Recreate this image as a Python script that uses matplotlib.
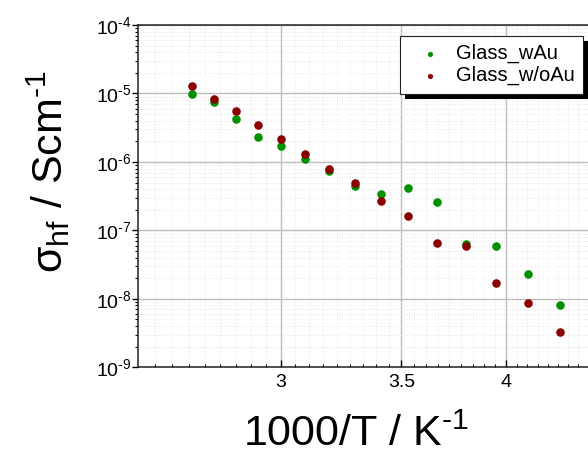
import numpy as np
import matplotlib.pyplot as plt
from matplotlib.patches import Rectangle
from matplotlib.transforms import IdentityTransform
from matplotlib.ticker import FixedLocator, FixedFormatter, LogLocator, FuncFormatter, NullFormatter

plt.rcParams['font.family'] = ['Liberation Sans', 'DejaVu Sans']
plt.rcParams['mathtext.fontset'] = 'custom'
plt.rcParams['mathtext.rm'] = 'Liberation Sans'
plt.rcParams['mathtext.it'] = 'Liberation Sans:italic'
plt.rcParams['mathtext.bf'] = 'Liberation Sans:bold'

# 1000/T in K^-1
inv_T = [2.680, 2.754, 2.832, 2.914, 3.002, 3.095, 3.193, 3.299, 3.411, 3.532,
         3.661, 3.800, 3.950, 4.113, 4.289]
sigma_wAu = [9.9e-6, 7.4e-6, 4.3e-6, 2.35e-6, 1.68e-6, 1.12e-6, 7.3e-7, 4.5e-7,
             3.4e-7, 4.2e-7, 2.6e-7, 6.4e-8, 5.9e-8, 2.3e-8, 8.1e-9]
sigma_woAu = [1.28e-5, 8.4e-6, 5.6e-6, 3.5e-6, 2.18e-6, 1.31e-6, 7.9e-7, 5.0e-7,
              2.65e-7, 1.6e-7, 6.5e-8, 6.0e-8, 1.7e-8, 8.6e-9, 3.3e-9]
labels = ['Glass_wAu', 'Glass_w/oAu']
colors = ['#009000', '#8b0000']

x_major = [3, 3.5, 4]
x_major_labels = ['3', '3.5', '4']

fig = plt.figure(figsize=(5.88, 4.5), dpi=100)
ax = fig.add_axes([138 / 588, 82.7 / 450, 460 / 588, 342.3 / 450])

ax.scatter(inv_T, sigma_wAu, s=38, color=colors[0], label=labels[0], zorder=3, linewidths=0)
ax.scatter(inv_T, sigma_woAu, s=38, color=colors[1], label=labels[1], zorder=4, linewidths=0)

ax.set_xscale('log')
ax.set_yscale('log')
ax.set_xlim(2.5, 4.5)
ax.set_ylim(1e-9, 1e-4)

# x ticks: majors every 0.5, 8 minors between
minors = np.concatenate([np.linspace(a, a + 0.5, 10)[1:-1] for a in [2.5, 3.0, 3.5, 4.0]])
ax.xaxis.set_major_locator(FixedLocator(x_major))
ax.xaxis.set_major_formatter(FixedFormatter(x_major_labels))
ax.xaxis.set_minor_locator(FixedLocator(minors))
ax.xaxis.set_minor_formatter(NullFormatter())


def pow10(v, pos):
    e = int(round(np.log10(v)))
    return '$10^{\\text{%d}}$' % e


ax.yaxis.set_major_locator(LogLocator(base=10, numticks=10))
ax.yaxis.set_major_formatter(FuncFormatter(pow10))
ax.yaxis.set_minor_locator(LogLocator(base=10, subs=np.arange(2, 10), numticks=10))
ax.yaxis.set_minor_formatter(NullFormatter())

ax.tick_params(axis='x', which='major', direction='in', length=5, width=1, pad=5, labelsize=14)
ax.tick_params(axis='x', which='minor', direction='in', length=2.5, width=0.8)
ax.tick_params(axis='y', which='major', direction='out', length=4.3, width=1, pad=0.5, labelsize=14)
ax.tick_params(axis='y', which='minor', direction='out', length=2.5, width=0.8)

ax.grid(True, which='major', color='#bdbdbd', linewidth=1, linestyle='-')
ax.grid(True, which='minor', color='#e6e6e6', linewidth=0.7, linestyle=':')
ax.set_axisbelow(True)

for side in ['left', 'bottom', 'top', 'right']:
    ax.spines[side].set_color('#222222')
    ax.spines[side].set_linewidth(1.1)

leg = ax.legend(loc='upper right', bbox_to_anchor=(583 / 588, 1 - 35.7 / 450),
                bbox_transform=fig.transFigure, borderaxespad=0, fontsize=14.5,
                frameon=True, fancybox=False, framealpha=1, edgecolor='#222222',
                markerscale=0.6, handlelength=2.1, handletextpad=0.25,
                borderpad=0.42, labelspacing=0.12)
leg.get_frame().set_linewidth(0.8)
leg.set_zorder(10)

fig.text(243 / 588, 4 / 450, '1000/T / K$^{\\text{-1}}$', fontsize=31,
         ha='left', va='baseline')
fig.text(63 / 588, 1 - 273 / 450, 'σ$_{\\text{hf}}$ / Scm$^{\\text{-1}}$',
         fontsize=31, rotation=90, rotation_mode='anchor', ha='left', va='baseline')

# black drop shadow behind the legend box
fig.canvas.draw()
bb = leg.get_window_extent()
shadow = Rectangle((bb.x0 + 5, bb.y0 - 5), bb.width, bb.height, transform=IdentityTransform(),
                   facecolor='black', edgecolor='none', zorder=9, clip_on=False)
ax.add_patch(shadow)

fig.savefig('out.png', dpi=100)
